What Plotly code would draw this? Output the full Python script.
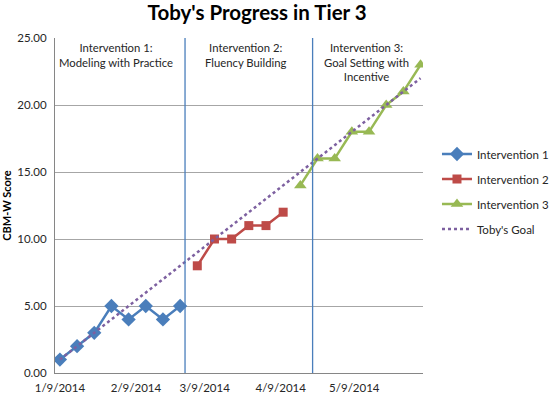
import plotly.graph_objects as go

# ---- data ----
dates_1 = ["2014-01-09", "2014-01-16", "2014-01-23", "2014-01-30",
           "2014-02-06", "2014-02-13", "2014-02-20", "2014-02-27"]
scores_1 = [1, 2, 3, 5, 4, 5, 4, 5]

dates_2 = ["2014-03-06", "2014-03-13", "2014-03-20", "2014-03-27",
           "2014-04-03", "2014-04-10"]
scores_2 = [8, 10, 10, 11, 11, 12]

dates_3 = ["2014-04-17", "2014-04-24", "2014-05-01", "2014-05-08",
           "2014-05-15", "2014-05-22", "2014-05-29", "2014-06-05"]
scores_3 = [14, 16, 16, 18, 18, 20, 21, 23]

goal_dates = ["2014-01-09", "2014-06-05"]
goal_scores = [1, 22]

phase_change_dates = ["2014-03-01", "2014-04-22"]
phase_labels = [
    ("2014-02-01", "Intervention 1:<br>Modeling with Practice"),
    ("2014-03-26", "Intervention 2:<br>Fluency Building"),
    ("2014-05-14", "Intervention 3:<br>Goal Setting with<br>Incentive"),
]

tick_vals = ["2014-01-09", "2014-02-09", "2014-03-09", "2014-04-09", "2014-05-09"]
tick_text = ["1/9/2014", "2/9/2014", "3/9/2014", "4/9/2014", "5/9/2014"]

FONT = "Lato, Open Sans, sans-serif"
BLUE, RED, GREEN, PURPLE = "#4A7EBB", "#BE4B48", "#98B954", "#7D60A0"

fig = go.Figure()
fig.add_trace(go.Scatter(x=dates_1, y=scores_1, name="Intervention 1", mode="lines+markers",
                         line=dict(color=BLUE, width=2.5),
                         marker=dict(symbol="diamond", size=11, color=BLUE),
                         legendgroup="a"))
fig.add_trace(go.Scatter(x=dates_2, y=scores_2, name="Intervention 2", mode="lines+markers",
                         line=dict(color=RED, width=2.5),
                         marker=dict(symbol="square", size=9, color=RED),
                         legendgroup="b"))
fig.add_trace(go.Scatter(x=dates_3, y=scores_3, name="Intervention 3", mode="lines+markers",
                         line=dict(color=GREEN, width=2.5),
                         marker=dict(symbol="triangle-up", size=11, color=GREEN),
                         legendgroup="c"))
fig.add_trace(go.Scatter(x=goal_dates, y=goal_scores, name="Toby's Goal", mode="lines",
                         line=dict(color=PURPLE, width=2.5, dash="dot"),
                         legendgroup="d"))

for d in phase_change_dates:
    fig.add_shape(type="line", xref="x", yref="y", x0=d, x1=d, y0=0, y1=25,
                  line=dict(color="#4A7EBB", width=1.3), layer="above")

for xd, txt in phase_labels:
    fig.add_annotation(x=xd, y=1, xref="x", yref="paper", yanchor="top", yshift=-1,
                       text=txt, showarrow=False, align="center",
                       font=dict(family=FONT, size=11.3, color="#262626"))

fig.update_layout(
    width=553, height=396,
    margin=dict(l=55, r=130, t=38, b=23, autoexpand=False),
    paper_bgcolor="white", plot_bgcolor="white",
    title=dict(text="<b>Toby's Progress in Tier 3</b>", x=0.465, xanchor="center",
               y=0.985, yanchor="top",
               font=dict(family=FONT, size=20.5, color="black")),
    font=dict(family=FONT, size=11.5, color="#262626"),
    legend=dict(x=1.038, y=0.697, xanchor="left", yanchor="top",
                font=dict(family=FONT, size=11.5, color="#262626"),
                tracegroupgap=6, itemwidth=30, bgcolor="rgba(0,0,0,0)"),
    showlegend=True,
)
fig.update_xaxes(type="date", range=["2014-01-07", "2014-06-06"], automargin=False,
                 tickvals=tick_vals, ticktext=tick_text, showgrid=False,
                 showline=True, linecolor="#868686", linewidth=1, ticklabelstandoff=4,
                 ticks="", tickfont=dict(size=11.5, color="#262626"), zeroline=False)
fig.update_yaxes(range=[0, 25], dtick=5, tickformat=".2f", showgrid=True, automargin=False,
                 gridcolor="#A6A6A6", gridwidth=1, showline=True, linecolor="#868686",
                 zeroline=False, ticks="", tickfont=dict(size=11.5, color="#262626"),
                 ticklabelstandoff=5,
                 title=dict(text="<b>CBM-W Score</b>", font=dict(size=11, color="black"),
                            standoff=3))

fig.write_html("out.html", config={"displayModeBar": False},
               post_script="document.body.style.margin='0';document.body.style.overflow='hidden';")
